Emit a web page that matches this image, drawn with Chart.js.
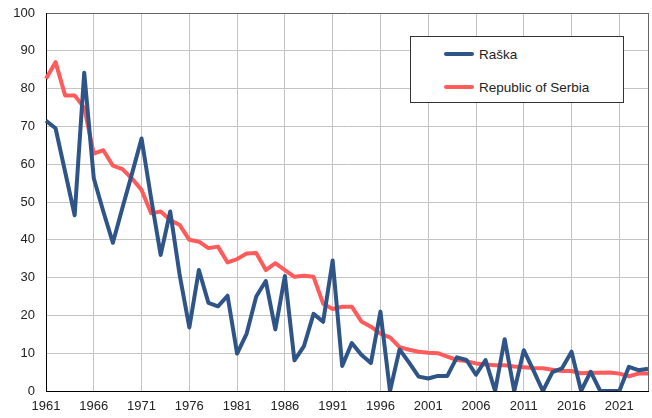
<!DOCTYPE html>
<html>
<head>
<meta charset="utf-8">
<script src="https://cdn.jsdelivr.net/npm/chart.js@4/dist/chart.umd.min.js"></script>
<style>
  html, body { margin: 0; padding: 0; background: #fff; }
  #wrap { position: relative; width: 652px; height: 418px; }
  #legend { position: absolute; left: 410px; top: 36px; width: 214px; height: 67px;
    border: 1px solid #333; background: #fff; box-sizing: border-box;
    font-family: "Liberation Sans", Arial, sans-serif; font-size: 13.5px; color: #222; }
  .item { position: absolute; left: 33px; height: 16px; display: flex; align-items: center; }
  .swatch { width: 30px; height: 4px; border-radius: 2px; margin-right: 5px; }
</style>
</head>
<body>
<div id="wrap">
  <canvas id="c" width="652" height="418"></canvas>
  <div id="legend"></div>
</div>
<script>
const years = ["1961","1962","1963","1964","1965","1966","1967","1968","1969","1970",
  "1971","1972","1973","1974","1975","1976","1977","1978","1979","1980",
  "1981","1982","1983","1984","1985","1986","1987","1988","1989","1990",
  "1991","1992","1993","1994","1995","1996","1997","1998","1999","2000",
  "2001","2002","2003","2004","2005","2006","2007","2008","2009","2010",
  "2011","2012","2013","2014","2015","2016","2017","2018","2019","2020",
  "2021","2022","2023","2024"];

const raska = [71.5,69.5,58,46.5,84.2,56.3,47.5,39.2,48.5,57.5,
  66.8,51,36,47.5,30.5,16.8,32,23.3,22.4,25.2,
  9.9,15.2,25,29.1,16.3,30.4,8.1,11.9,20.4,18.3,
  34.5,6.6,12.7,9.6,7.4,21,0,11,7.5,3.8,
  3.3,4,4,8.9,8.2,4.3,8.2,0,13.7,0,
  10.8,5.5,0,5,6,10.4,0,5.1,0,0,
  0,6.4,5.5,5.9];

const serbia = [82.6,87,78.2,78.2,74.9,62.8,63.7,59.6,58.7,56.2,
  53.2,47,47.5,45.2,43.9,40,39.5,37.8,38.2,34,
  34.9,36.4,36.5,32,33.8,32,30.2,30.5,30.2,23.1,
  21.7,22.3,22.3,18.4,17,15.2,14.2,11.6,10.9,10.4,
  10.1,10,9.1,8.2,7.9,7.3,7,6.8,6.8,6.5,
  6.3,6.1,6,5.6,5.3,5.3,4.7,4.8,4.8,4.9,
  4.6,3.9,4.6,4.6];

const yTicks = [0,10,20,30,40,50,60,70,80,90,100];
const seriesNames = ["Raška", "Republic of Serbia"];
const colors = ["#2f5487", "#ff5b5b"];

const FONT = "'Liberation Sans', Arial, sans-serif";

new Chart(document.getElementById('c'), {
  type: 'line',
  data: {
    labels: years,
    datasets: [
      { label: seriesNames[0], data: raska, borderColor: colors[0], backgroundColor: colors[0],
        borderWidth: 4, pointRadius: 0, tension: 0, borderJoinStyle: 'round', fill: false },
      { label: seriesNames[1], data: serbia, borderColor: colors[1], backgroundColor: colors[1],
        borderWidth: 4, pointRadius: 0, tension: 0, borderJoinStyle: 'round', fill: false }
    ]
  },
  options: {
    responsive: false,
    animation: false,
    layout: { padding: { top: 13, right: 4, left: 0, bottom: 0 } },
    plugins: { legend: { display: false }, tooltip: { enabled: false } },
    scales: {
      x: {
        type: 'category',
        offset: false,
        afterFit: s => { s.height = 27; s.paddingLeft = 0; s.paddingRight = 0; },
        border: { color: '#000', width: 1 },
        grid: {
          drawTicks: false,
          lineWidth: 1,
          color: ctx => (ctx.index === years.length - 1) ? '#666' :
                        (ctx.index % 5 === 0 ? '#c4c4c4' : 'rgba(0,0,0,0)')
        },
        ticks: {
          autoSkip: false, maxRotation: 0, minRotation: 0, padding: 8,
          color: '#222', font: { family: FONT, size: 13 },
          callback: (v, i) => (i % 5 === 0 ? years[i] : '')
        }
      },
      y: {
        min: 0, max: 100,
        afterFit: s => { s.width = 46; s.paddingTop = 0; s.paddingBottom = 0; },
        afterBuildTicks: s => { s.ticks = yTicks.map(v => ({ value: v })); },
        border: { color: '#000', width: 1 },
        grid: {
          drawTicks: false,
          lineWidth: 1,
          color: ctx => (ctx.tick && ctx.tick.value === 100) ? '#666' : '#c4c4c4'
        },
        ticks: { padding: 11, color: '#222', font: { family: FONT, size: 13 } }
      }
    }
  }
});

const legend = document.getElementById('legend');
const tops = [9, 42];
seriesNames.forEach((name, i) => {
  const it = document.createElement('div');
  it.className = 'item';
  it.style.top = tops[i] + 'px';
  const sw = document.createElement('span');
  sw.className = 'swatch';
  sw.style.background = colors[i];
  const tx = document.createElement('span');
  tx.textContent = name;
  it.appendChild(sw); it.appendChild(tx);
  legend.appendChild(it);
});
</script>
</body>
</html>
